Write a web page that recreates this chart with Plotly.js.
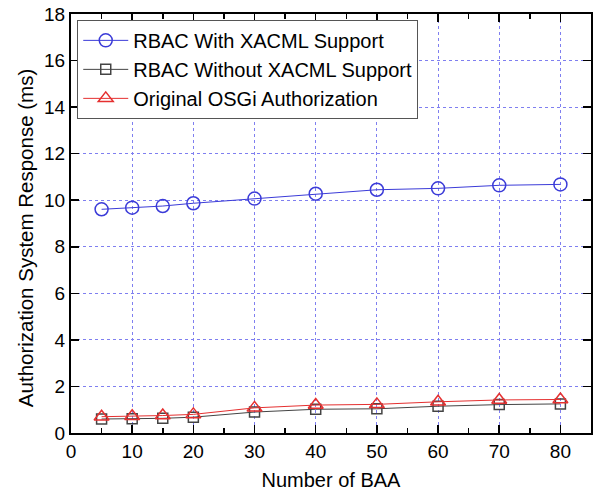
<!DOCTYPE html>
<html><head><meta charset="utf-8">
<script src="https://cdn.plot.ly/plotly-3.0.1.min.js"></script>
<style>html,body{margin:0;padding:0;background:#fff;}#chart{width:597px;height:495px;}</style>
</head><body><div id="chart"></div>
<script>
const baa = [5, 10, 15, 20, 30, 40, 50, 60, 70, 80];
const withXacml = [9.61, 9.68, 9.75, 9.87, 10.07, 10.28, 10.45, 10.51, 10.64, 10.68];
const withoutXacml = [0.60, 0.61, 0.63, 0.68, 0.90, 1.02, 1.04, 1.15, 1.22, 1.25];
const originalOsgi = [0.70, 0.72, 0.75, 0.80, 1.08, 1.20, 1.23, 1.34, 1.42, 1.44];
const seriesNames = ["RBAC With XACML Support", "RBAC Without XACML Support", "Original OSGi Authorization"];
const xTicks = [0, 10, 20, 30, 40, 50, 60, 70, 80];
const yTicks = [0, 2, 4, 6, 8, 10, 12, 14, 16, 18];
const yTitle = "Authorization System Response (ms)";
const xTitle = "Number of BAA";

const font = "Liberation Sans, Arial, sans-serif";
const traces = [
  {x: baa, y: withXacml, name: seriesNames[0], mode: "lines+markers",
   line: {color: "#3b3bd8", width: 1},
   marker: {symbol: "circle-open", size: 13, color: "#3b3bd8", line: {width: 1.5}}},
  {x: baa, y: withoutXacml, name: seriesNames[1], mode: "lines+markers",
   line: {color: "#444444", width: 1},
   marker: {symbol: "square-open", size: 10, color: "#444444", line: {width: 1.5}}},
  {x: baa, y: originalOsgi, name: seriesNames[2], mode: "lines+markers",
   line: {color: "#e53030", width: 1},
   marker: {symbol: "triangle-up-open", size: 13, color: "#e53030", line: {width: 1.5}}}
];
const layout = {
  width: 597, height: 495,
  margin: {l: 71, r: 6, t: 14, b: 62},
  paper_bgcolor: "#fff", plot_bgcolor: "#fff",
  font: {family: font, color: "#000", size: 19},
  showlegend: true,
  legend: {x: 0.012, y: 0.986, xanchor: "left", yanchor: "top",
    bgcolor: "#fff", bordercolor: "#555", borderwidth: 1, itemwidth: 45,
    font: {family: font, size: 20, color: "#000"}, tracegroupgap: 0},
  xaxis: {range: [0, 85], tickvals: xTicks, ticktext: xTicks.map(String),
    ticks: "inside", ticklen: 8, tickwidth: 1.5, tickcolor: "#000",
    minor: {dtick: 5, ticks: "inside", ticklen: 5, tickwidth: 1.5, tickcolor: "#000", showgrid: false},
    showline: true, linecolor: "#000", linewidth: 2, mirror: "ticks",
    showgrid: true, gridcolor: "#7f7ff0", griddash: "dot", gridwidth: 1,
    zeroline: false,
    tickfont: {size: 19, family: font},
    title: {text: xTitle, font: {size: 20, family: font}, standoff: 12}},
  yaxis: {range: [0, 18], tickvals: yTicks, ticktext: yTicks.map(String),
    ticks: "inside", ticklen: 8, tickwidth: 1.5, tickcolor: "#000",
    showline: true, linecolor: "#000", linewidth: 2, mirror: "ticks",
    showgrid: true, gridcolor: "#7f7ff0", griddash: "dot", gridwidth: 1,
    zeroline: false,
    tickfont: {size: 19, family: font}},
  annotations: [{text: yTitle, xref: "paper", yref: "paper", x: -0.0885, y: 0.465,
    xanchor: "center", yanchor: "middle", textangle: -90, showarrow: false,
    font: {size: 20.5, family: font, color: "#000"}}]
};
Plotly.newPlot("chart", traces, layout, {displayModeBar: false, staticPlot: true});
</script></body></html>
